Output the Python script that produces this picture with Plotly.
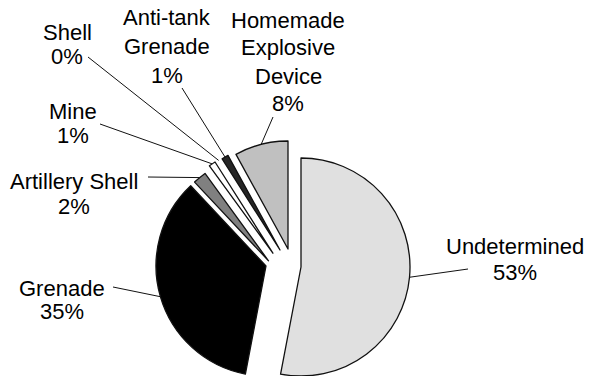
import math
import plotly.graph_objects as go

# ---- data -------------------------------------------------------------
categories = ["Undetermined", "Grenade", "Artillery Shell", "Mine", "Shell",
              "Anti-tank Grenade", "Homemade Explosive Device"]
shares = [53, 35, 2, 1, 0, 1, 8]          # percent of incidents
label_lines = [["Undetermined"], ["Grenade"], ["Artillery Shell"], ["Mine"], ["Shell"],
               ["Anti-tank", "Grenade"], ["Homemade", "Explosive", "Device"]]

# ---- styling / layout --------------------------------------------------
W, H = 589, 376
FONT = "Liberation Sans, Arial, Helvetica, sans-serif"
FONT_SIZE = 22
fills = ["#e0e0e0", "#000000", "#808080", "#ffffff", "#ffffff", "#262626", "#c0c0c0"]
EDGE = "#111111"

# each wedge is exploded on its own: apex (px from top-left) and radius (px)
wedge_place = {
    "Undetermined": (301, 267, 109),
    "Grenade": (266, 266, 110),
    "Artillery Shell": (268.5, 260.8, 108),
    "Mine": (272.9, 253.2, 108),
    "Shell": (276.5, 251.6, 108),
    "Anti-tank Grenade": (280.0, 250.0, 108),
    "Homemade Explosive Device": (288, 249, 108),
}

# label: centre x, baseline of each text line (px), outer end of leader (px)
label_place = {
    "Undetermined": (515, [253, 279], (468, 269)),
    "Grenade": (62, [295, 318], (113, 287)),
    "Artillery Shell": (73.5, [188, 213], (148, 177)),
    "Mine": (73, [118, 142], (100, 124)),
    "Shell": (67, [39, 63], (88, 57)),
    "Anti-tank Grenade": (167, [25, 53, 82], (182, 88)),
    "Homemade Explosive Device": (288, [27, 55, 83, 110], (273, 117)),
}
BASELINE_DROP = 7  # distance from a single-line box centre to its baseline


def px_x(x):
    return x / W


def px_y(y):
    return 1 - y / H


fig = go.Figure()
clear = "rgba(0,0,0,0)"
total = sum(shares)
start = 0.0
for i, name in enumerate(categories):
    cx, cy, r = wedge_place[name]
    mid = (start + shares[i] / 2) / total * 2 * math.pi
    start += shares[i]

    if shares[i] > 0:
        fig.add_trace(go.Pie(
            labels=categories,
            values=shares,
            sort=False,
            direction="clockwise",
            rotation=0,
            textinfo="none",
            hoverinfo="skip",
            showlegend=False,
            marker=dict(
                colors=[fills[j] if j == i else clear for j in range(len(shares))],
                line=dict(color=[EDGE if j == i else clear for j in range(len(shares))],
                          width=[1.3 if j == i else 0 for j in range(len(shares))]),
            ),
            domain=dict(x=[px_x(cx - r), px_x(cx + r)],
                        y=[px_y(cy + r), px_y(cy - r)]),
        ))

    # leader line from the rim at the wedge's mid-angle out to its label
    rim_x = cx + r * math.sin(mid)
    rim_y = cy - r * math.cos(mid)
    tx, baselines, (lx, ly) = label_place[name]
    fig.add_shape(type="line", xref="paper", yref="paper",
                  x0=px_x(lx), y0=px_y(ly), x1=px_x(rim_x), y1=px_y(rim_y),
                  line=dict(color="#111111", width=1))

    lines = label_lines[i] + [f"{shares[i]}%"]
    for text, base in zip(lines, baselines):
        fig.add_annotation(xref="paper", yref="paper",
                           x=px_x(tx), y=px_y(base - BASELINE_DROP),
                           xanchor="center", yanchor="middle", showarrow=False,
                           text=text,
                           font=dict(family=FONT, size=FONT_SIZE, color="#000000"))

fig.update_layout(width=W, height=H, margin=dict(l=0, r=0, t=0, b=0),
                  paper_bgcolor="white", plot_bgcolor="white")

fig.write_html("out.html")
